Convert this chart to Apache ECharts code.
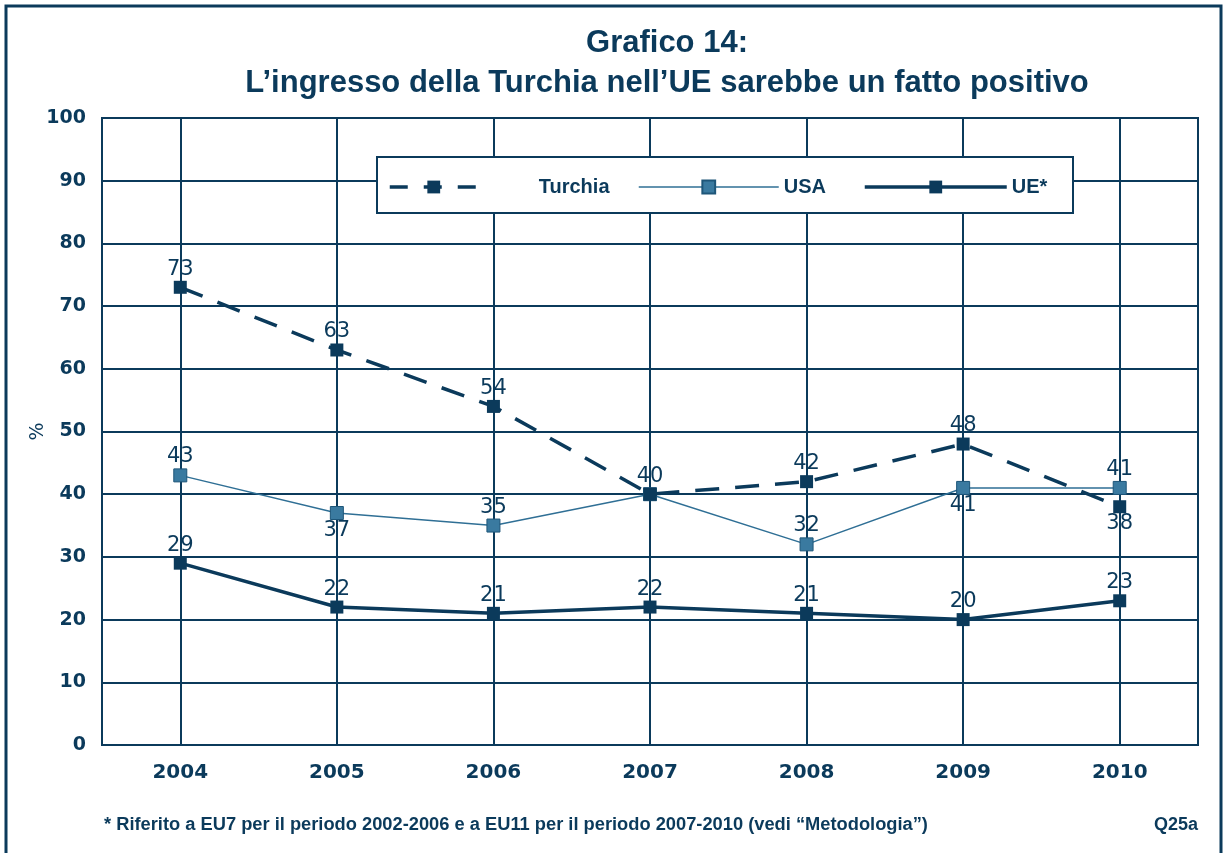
<!DOCTYPE html>
<html>
<head>
    <meta charset="UTF-8">
    <script src="https://cdn.jsdelivr.net/npm/echarts@6/dist/echarts.min.js"></script>
    <style>
        html, body { margin: 0; padding: 0; background: #fff; }
        #main { width: 1226px; height: 853px; }
    </style>
</head>
<body>
    <div id="main"></div>
    <script>
        // dati
        var anni = ['2004', '2005', '2006', '2007', '2008', '2009', '2010'];
        var turchia = [73, 63, 54, 40, 42, 48, 38];
        var usa = [43, 37, 35, 40, 32, 41, 41];
        var ue = [29, 22, 21, 22, 21, 20, 23];
        var yTicks = [0, 10, 20, 30, 40, 50, 60, 70, 80, 90, 100];

        var navy = '#0b3a5b';
        var blu = '#2f6f95';
        var narrow = '"Liberation Sans Narrow", "Liberation Sans", Arial, sans-serif';
        var wide = '"DejaVu Sans", Verdana, sans-serif';

        // etichette sotto il punto / nascoste
        function punti(valori, sotto, nascoste) {
            return valori.map(function (v, i) {
                var d = { value: v };
                if (sotto.indexOf(i) >= 0) d.label = { position: 'bottom', distance: 0 };
                if (nascoste.indexOf(i) >= 0) d.label = { show: false };
                return d;
            });
        }

        var etichetta = {
            show: true,
            position: 'top',
            distance: 1,
            color: navy,
            fontSize: 21,
            fontFamily: wide
        };

        var legendText = { color: navy, fontSize: 20, fontWeight: 'bold', fontFamily: narrow };

        var myChart = echarts.init(document.getElementById('main'));
        var option = {
            animation: false,
            title: {
                text: 'Grafico 14:\nL\u2019ingresso della Turchia nell\u2019UE sarebbe un fatto positivo',
                left: 662,
                top: 18,
                textAlign: 'center',
                textStyle: { color: navy, fontSize: 31, fontWeight: 'bold', fontFamily: narrow, lineHeight: 40 }
            },
            legend: [
                { data: ['Turchia'], left: 383, top: 172, itemWidth: 88, itemHeight: 16, itemGap: 0, z: 20,
                  lineStyle: { width: 3.5, type: [18, 16] },
                  textStyle: { color: navy, fontSize: 20, fontWeight: 'bold', fontFamily: narrow, padding: [0, 0, 0, 56] } },
                { data: ['USA'], left: 633, top: 172, itemWidth: 140, itemHeight: 16, z: 20,
                  lineStyle: { width: 1.5 },
                  textStyle: legendText },
                { data: ['UE*'], left: 858, top: 172, itemWidth: 142, itemHeight: 16, z: 20,
                  lineStyle: { width: 3.5 },
                  textStyle: legendText }
            ],
            grid: {
                left: 102, right: 28, top: 118, bottom: 108,
                show: true, borderColor: navy, borderWidth: 2
            },
            xAxis: {
                type: 'category',
                data: anni,
                boundaryGap: true,
                axisLine: { lineStyle: { color: navy, width: 2 } },
                axisTick: { show: false },
                axisLabel: { color: navy, fontSize: 20, fontWeight: 'bold', margin: 18, fontFamily: wide },
                splitLine: { show: true, alignWithLabel: true, lineStyle: { color: navy, width: 2 } }
            },
            yAxis: {
                type: 'value',
                min: yTicks[0],
                max: yTicks[yTicks.length - 1],
                interval: yTicks[1] - yTicks[0],
                name: '%',
                nameLocation: 'middle',
                nameGap: 54,
                nameMoveOverlap: false,
                nameRotate: 90,
                nameTextStyle: { color: navy, fontSize: 19, fontFamily: wide },
                axisLine: { show: true, lineStyle: { color: navy, width: 2 } },
                axisTick: { show: false },
                axisLabel: { color: navy, fontSize: 19, fontWeight: 'bold', margin: 16, fontFamily: wide },
                splitLine: { lineStyle: { color: navy, width: 2 } }
            },
            graphic: [
                { type: 'rect', shape: { x: 6, y: 6, width: 1215, height: 860 }, silent: true, z: 0,
                  style: { fill: 'none', stroke: navy, lineWidth: 3 } },
                { type: 'rect', shape: { x: 377, y: 157, width: 696, height: 56 }, z: 5,
                  style: { fill: '#fff', stroke: navy, lineWidth: 2 } },
                { type: 'text', left: 104, top: 816, z: 5,
                  style: { text: '* Riferito a EU7 per il periodo 2002-2006 e a EU11 per il periodo 2007-2010 (vedi \u201cMetodologia\u201d)',
                           fill: navy, fontSize: 18.3, fontWeight: 'bold', fontFamily: narrow } },
                { type: 'text', right: 28, top: 816, z: 5,
                  style: { text: 'Q25a', fill: navy, fontSize: 18, fontWeight: 'bold', fontFamily: narrow } }
            ],
            series: [
                {
                    name: 'Turchia', type: 'line', data: punti(turchia, [6], []),
                    symbol: 'rect', symbolSize: 13,
                    lineStyle: { color: navy, width: 3.5, type: [24, 16] },
                    itemStyle: { color: navy },
                    label: etichetta, z: 4
                },
                {
                    name: 'USA', type: 'line', data: punti(usa, [1, 5], [3]),
                    symbol: 'rect', symbolSize: 13,
                    lineStyle: { color: blu, width: 1.5 },
                    itemStyle: { color: '#3a7aa0', borderColor: '#1e5679', borderWidth: 1 },
                    label: etichetta, z: 3
                },
                {
                    name: 'UE*', type: 'line', data: punti(ue, [], []),
                    symbol: 'rect', symbolSize: 13,
                    lineStyle: { color: navy, width: 3.5 },
                    itemStyle: { color: navy },
                    label: etichetta, z: 3
                }
            ]
        };
        myChart.setOption(option, true);
    </script>
</body>
</html>
